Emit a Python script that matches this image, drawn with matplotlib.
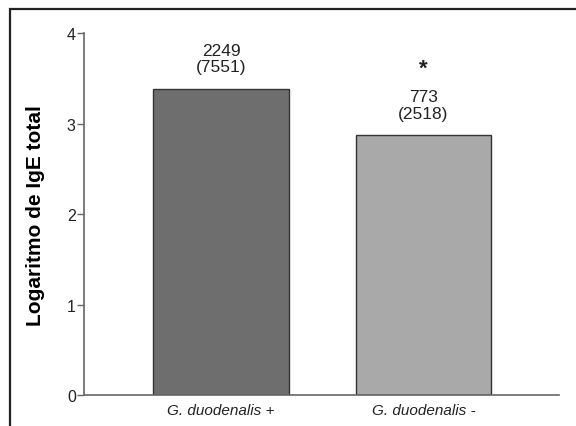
import matplotlib.pyplot as plt
from matplotlib.patches import Rectangle

plt.rcParams['font.family'] = ['Liberation Sans', 'DejaVu Sans']

groups = ['G. duodenalis +', 'G. duodenalis -']
log_ige = [3.385, 2.87]
medians = ['2249', '773']
ranges = ['(7551)', '(2518)']
bar_colors = ['#6e6e6e', '#a9a9a9']

fig = plt.figure(figsize=(5.76, 4.27), dpi=100)
ax = fig.add_axes([0.146, 0.0726, 0.824, 0.8474])

x = list(range(len(groups)))
ax.bar(x, log_ige, width=0.67, color=bar_colors, edgecolor='#333333', linewidth=1.0, zorder=2)

for xi, v, m, r in zip(x, log_ige, medians, ranges):
    ax.text(xi, v + 0.16, f'{m}\n{r}', ha='center', va='bottom',
            fontsize=12.5, color='#222222', linespacing=1.15)
ax.text(x[1], log_ige[1] + 0.74, '*', ha='center', va='center',
        fontsize=16, fontweight='bold', color='#222222')

ax.set_xlim(-0.677, 1.669)
ax.set_ylim(0, 4)
ax.set_yticks([0, 1, 2, 3, 4])
ax.set_xticks(x)
ax.set_xticklabels(groups, fontstyle='italic', fontsize=11, color='#222222')
ax.tick_params(axis='x', length=0, pad=6)
ax.tick_params(axis='y', length=5, width=1, color='#666666', labelsize=11.5,
               labelcolor='#222222', pad=1)
for side in ['top', 'right']:
    ax.spines[side].set_visible(False)
for side in ['left', 'bottom']:
    ax.spines[side].set_color('#666666')
    ax.spines[side].set_linewidth(1.2)

ax.set_ylabel('Logaritmo de IgE total', fontsize=15, fontweight='bold')
ax.yaxis.set_label_coords(-0.083, 0.5)

fig.patches.append(Rectangle((10 / 576, -0.1), 1.2, 1.1 - 10 / 427, transform=fig.transFigure,
                             fill=False, edgecolor='#222222', linewidth=1.6))

fig.savefig('out.png', dpi=100)
